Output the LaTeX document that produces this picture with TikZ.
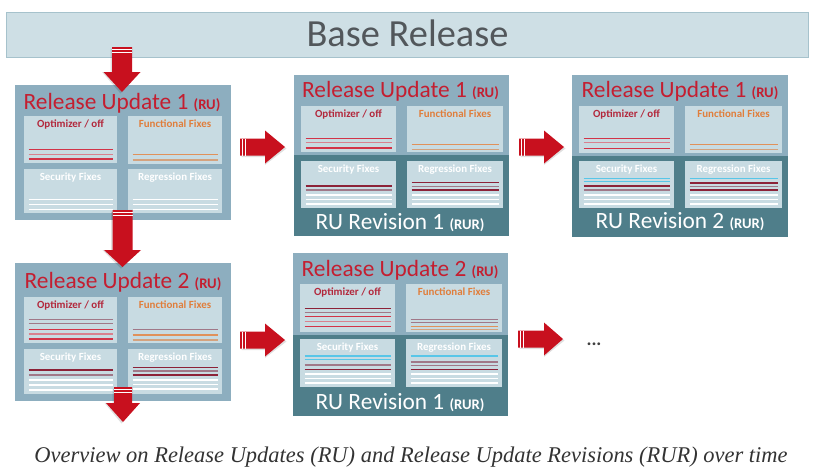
\documentclass[tikz,border=0pt]{standalone}
\usepackage{fontspec}
\setmainfont{Carlito}
\newfontfamily\capfont{Liberation Serif}
\definecolor{basefill}{HTML}{CEDFE5}
\definecolor{baseedge}{HTML}{A6C2CC}
\definecolor{boxfill}{HTML}{8DAEBF}
\definecolor{panelfill}{HTML}{C8DBE2}
\definecolor{darkfill}{HTML}{4F7E8A}
\definecolor{titlered}{HTML}{C41E30}
\definecolor{optred}{HTML}{B2283C}
\definecolor{funcor}{HTML}{E07E3C}
\definecolor{arrred}{HTML}{C8101E}
\definecolor{basetext}{HTML}{52575B}
\definecolor{lred}{HTML}{D23448}
\definecolor{lpink}{HTML}{D9808E}
\definecolor{ldred}{HTML}{8C2238}
\definecolor{lmauve}{HTML}{A07888}
\definecolor{lorange}{HTML}{E0915A}
\definecolor{ltan}{HTML}{D4A27E}
\definecolor{lcyan}{HTML}{58C6E8}
\tikzset{
  basebar/.style={fill=basefill, draw=baseedge, line width=0.6pt},
  rubox/.style={fill=boxfill},
  darkpart/.style={fill=darkfill},
  panel/.style={fill=panelfill},
  ttl/.style={text=titlered, font=\fontsize{17.5}{20}\selectfont, inner sep=0pt, anchor=base},
  rev/.style={text=white, font=\fontsize{17.5}{20}\selectfont, inner sep=0pt, anchor=base},
  plabel/.style={font=\fontsize{8.2}{10}\selectfont\bfseries, inner sep=0pt, anchor=base},
  stripe/.style={line width=1.05pt},
}
\newcommand\smallru[1]{{\fontsize{11}{12}\selectfont\bfseries #1}}
% panel: name, x1, y1, x2, y2, text colour, label
\newcommand\rupanel[7]{%
  \path[panel] (#2,#3) rectangle (#4,#5);
  \node[plabel, text=#6] (#1) at ({(#2+#4)/2},{#3+11.5}) {#7};}
% stripes: x1, x2, list colour/y
\newcommand\rustripes[3]{%
  \foreach \cc/\yy in {#3} {\draw[stripe, \cc] ({#1+4.5},\yy) -- ({#2-4.5},\yy);}}
% block arrow: x, y, rotation, shaft, head, half shaft, half head
\newcommand\rubarrow[7]{%
  \begin{scope}[shift={(#1,#2)}, rotate=#3]
    \fill[black, opacity=0.12] (1.5,{-#6+1.5}) -- (#4,{-#6+1.5}) -- (#4,{-#7+1.5}) -- ({#4+#5+1.5},1.5) -- (#4,{#7+1.5}) -- (#4,{#6+1.5}) -- (1.5,{#6+1.5}) -- cycle;
    \fill[arrred] (0,-#6) -- (#4,-#6) -- (#4,-#7) -- ({#4+#5},0) -- (#4,#7) -- (#4,#6) -- (0,#6) -- cycle;
    \draw[white, line width=0.8pt] (2.5,-#6) -- (2.5,#6);
    \draw[white, line width=0.8pt] (5.5,-#6) -- (5.5,#6);
  \end{scope}}
\begin{document}
\begin{tikzpicture}[x=0.75pt, y=-0.75pt]
\useasboundingbox[fill=white] (0,0) rectangle (817,472);

% Base release bar
\path[basebar] (6,12) rectangle (808,57);
\node[text=basetext, font=\fontsize{28.8}{32}\selectfont, inner sep=0pt, anchor=base] (base) at (407.5,46.5) {Base Release};

% ---------- Box 1: RU1 ----------
\path[rubox] (15,85) rectangle (231,220);
\node[ttl] (t1) at (122,109) {Release Update 1 \smallru{(RU)}};
\rupanel{p1a}{24}{116}{117}{163}{optred}{Optimizer / off}
\rupanel{p1b}{128}{116}{222}{164}{funcor}{Functional Fixes}
\rupanel{p1c}{24}{169}{117}{213}{white}{Security Fixes}
\rupanel{p1d}{128}{169}{222}{213}{white}{Regression Fixes}
\rustripes{24}{117}{lred/149.3, lpink/154.3, lred/159}
\rustripes{128}{222}{lorange/154.3, ltan/160}
\rustripes{24}{117}{white/199.3, white/204.3, white/209.3}
\rustripes{128}{222}{white/199.3, white/204.3, white/209.3}

% ---------- Box 2: RU1 / RUR1 ----------
\path[rubox] (294,75) rectangle (509,236);
\path[darkpart] (294,155) rectangle (509,236);
\node[ttl] (t2) at (400.5,97.5) {Release Update 1 \smallru{(RU)}};
\rupanel{p2a}{301}{106}{396}{152}{optred}{Optimizer / off}
\rupanel{p2b}{407}{106}{503}{152}{funcor}{Functional Fixes}
\rupanel{p2c}{301}{161}{396}{208}{white}{Security Fixes}
\rupanel{p2d}{407}{161}{503}{208}{white}{Regression Fixes}
\rustripes{301}{396}{lred/138.3, lpink/142.7, lred/148}
\rustripes{407}{503}{lorange/144.3, ltan/149.3}
\rustripes{301}{396}{ldred/186, lmauve/190, white/195, white/199.5, white/204}
\rustripes{407}{503}{ldred/182.7, lmauve/186.3, ldred/190, white/195, white/199.5, white/204}
\node[rev] (r2) at (400,229) {RU Revision 1 \smallru{(RUR)}};

% ---------- Box 3: RU1 / RUR2 ----------
\path[rubox] (572,75) rectangle (788,237);
\path[darkpart] (572,156) rectangle (788,237);
\node[ttl] (t3) at (680,97.5) {Release Update 1 \smallru{(RU)}};
\rupanel{p3a}{579}{106}{674}{153}{optred}{Optimizer / off}
\rupanel{p3b}{685}{106}{782}{153}{funcor}{Functional Fixes}
\rupanel{p3c}{579}{161}{674}{208}{white}{Security Fixes}
\rupanel{p3d}{685}{161}{782}{208}{white}{Regression Fixes}
\rustripes{579}{674}{lred/138.3, lpink/142.7, lred/148.3}
\rustripes{685}{782}{lorange/144.3, ltan/149.3}
\rustripes{579}{674}{lcyan/178.3, lcyan/181.7, ldred/186, lmauve/190, white/195, white/199.3, white/204}
\rustripes{685}{782}{lcyan/178.3, ldred/183, lmauve/186.5, ldred/190, white/195, white/199.3, white/204}
\node[rev] (r3) at (680,228.5) {RU Revision 2 \smallru{(RUR)}};

% ---------- Box 4: RU2 ----------
\path[rubox] (15,263) rectangle (231,401);
\node[ttl] (t4) at (123,288.5) {Release Update 2 \smallru{(RU)}};
\rupanel{p4a}{24}{297}{117}{343}{optred}{Optimizer / off}
\rupanel{p4b}{128}{297}{222}{343}{funcor}{Functional Fixes}
\rupanel{p4c}{24}{349}{117}{394}{white}{Security Fixes}
\rupanel{p4d}{128}{349}{222}{394}{white}{Regression Fixes}
\rustripes{24}{117}{lmauve/319.3, lmauve/323.5, lred/329.3, lpink/334, lred/339}
\rustripes{128}{222}{lmauve/329.3, lorange/335, ltan/340}
\rustripes{24}{117}{ldred/370, lmauve/375, white/380, white/385, white/390}
\rustripes{128}{222}{ldred/367.3, lmauve/371, ldred/375, white/380, white/384.5, white/389}

% ---------- Box 5: RU2 / RUR1 ----------
\path[rubox] (293,253) rectangle (508,416);
\path[darkpart] (293,335) rectangle (508,416);
\node[ttl] (t5) at (400,276.5) {Release Update 2 \smallru{(RU)}};
\rupanel{p5a}{300}{284}{395}{332}{optred}{Optimizer / off}
\rupanel{p5b}{406}{284}{502}{332}{funcor}{Functional Fixes}
\rupanel{p5c}{300}{339}{395}{387}{white}{Security Fixes}
\rupanel{p5d}{406}{339}{502}{387}{white}{Regression Fixes}
\rustripes{300}{395}{ldred/308.3, lmauve/312.7, lred/316.7, lpink/321.7, lred/326.7}
\rustripes{406}{502}{lmauve/319.3, lmauve/322.7, lorange/326.7, ltan/329.7}
\rustripes{300}{395}{lcyan/356, lcyan/359.3, lmauve/365, ldred/369.3, white/374, white/378.7, white/383}
\rustripes{406}{502}{lcyan/356, lmauve/362, lmauve/365.5, ldred/369.3, white/374, white/378.7, white/383}
\node[rev] (r5) at (400,409) {RU Revision 1 \smallru{(RUR)}};

% ---------- block arrows ----------
\rubarrow{122}{47}{-90}{25}{20}{10}{18.5}
\rubarrow{122.5}{210}{-90}{40}{17}{10}{18.5}
\rubarrow{123}{387}{-90}{16}{19}{9}{17}
\rubarrow{240}{147}{0}{25}{20}{8.5}{16.5}
\rubarrow{519}{147}{0}{25}{20}{8.5}{16.5}
\rubarrow{240}{340}{0}{25}{20}{8.5}{16.5}
\rubarrow{518}{339}{0}{26}{19}{8.5}{16.5}

\node[text=black!75, font=\fontsize{14}{15}\selectfont\bfseries, inner sep=0pt, anchor=base] (dots) at (594,345) {...};

% caption
\node[text=black!80, font=\capfont\itshape\fontsize{16.85}{19}\selectfont, inner sep=0pt, anchor=base] (cap) at (411,462) {Overview on Release Updates (RU) and Release Update Revisions (RUR) over time};
\end{tikzpicture}
\end{document}
